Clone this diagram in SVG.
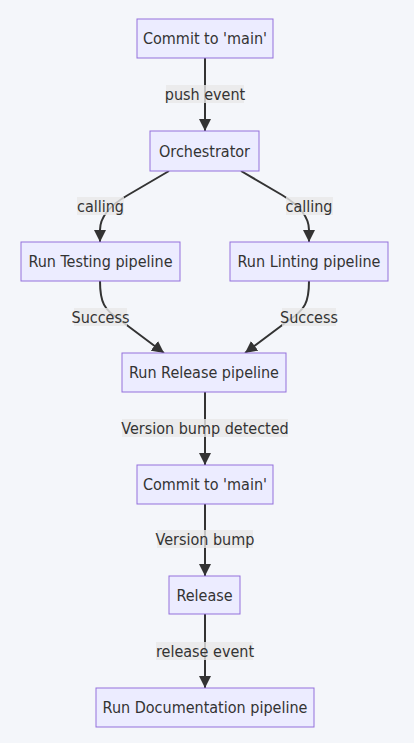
<svg xmlns="http://www.w3.org/2000/svg" width="414" height="743" viewBox="0 0 414 743">
<style>
.bg{fill:#f4f6fa}
.node rect{fill:#ececff;stroke:#9370db;stroke-width:1}
text{font-family:"DejaVu Sans Condensed","DejaVu Sans",sans-serif;font-stretch:condensed;font-size:16px;fill:#333;text-anchor:middle;dominant-baseline:central}
.edge{fill:none;stroke:#333;stroke-width:2}
.lbl rect{fill:#e8e8e8;opacity:0.8}
</style>
<defs>
<marker id="arrow" viewBox="0 0 10 10" refX="10" refY="5" markerUnits="userSpaceOnUse" markerWidth="12" markerHeight="12" orient="auto">
<path d="M0,0 L10,5 L0,10 z" fill="#333"/>
</marker>
</defs>
<rect class="bg" x="0" y="0" width="414" height="743"/>
<g id="connectors">
<path class="edge" d="M205,58 L205,131" marker-end="url(#arrow)"/>
<path class="edge" d="M169,171 L128,195 Q100,211 100,230 L100,242" marker-end="url(#arrow)"/>
<path class="edge" d="M241,171 L282,195 Q309,211 309,230 L309,242" marker-end="url(#arrow)"/>
<path class="edge" d="M100,281 C100,302 104,310 120,320 L164,353" marker-end="url(#arrow)"/>
<path class="edge" d="M309,281 C309,302 305,310 289,320 L245,353" marker-end="url(#arrow)"/>
<path class="edge" d="M205,392 L205,465" marker-end="url(#arrow)"/>
<path class="edge" d="M205,504 L205,576" marker-end="url(#arrow)"/>
<path class="edge" d="M205,614 L205,688" marker-end="url(#arrow)"/>
<g class="lbl"><rect x="166" y="85" width="78" height="18"/><text x="205" y="94.5">push event</text></g>
<g class="lbl"><rect x="77" y="197" width="47" height="18"/><text x="100.5" y="206">calling</text></g>
<g class="lbl"><rect x="286" y="197" width="47" height="18"/><text x="309" y="206">calling</text></g>
<g class="lbl"><rect x="74" y="308" width="53" height="18"/><text x="100.5" y="317">Success</text></g>
<g class="lbl"><rect x="282" y="308" width="54" height="18"/><text x="309" y="317">Success</text></g>
<g class="lbl"><rect x="122" y="419" width="166" height="18"/><text x="205" y="428.5">Version bump detected</text></g>
<g class="lbl"><rect x="157" y="530" width="96" height="18"/><text x="205" y="539.5">Version bump</text></g>
<g class="lbl"><rect x="156" y="642" width="97" height="18"/><text x="205" y="651">release event</text></g>
</g>
<g id="commit1" class="node"><rect x="137" y="19" width="136" height="39"/><text x="205" y="38.5">Commit to 'main'</text></g>
<g id="orchestrator" class="node"><rect x="150" y="131" width="109" height="40"/><text x="204.5" y="151">Orchestrator</text></g>
<g id="testing" class="node"><rect x="21" y="242" width="159" height="39"/><text x="100.5" y="261.5">Run Testing pipeline</text></g>
<g id="linting" class="node"><rect x="230" y="242" width="158" height="39"/><text x="309" y="261.5">Run Linting pipeline</text></g>
<g id="releasePipeline" class="node"><rect x="122" y="353" width="164" height="39"/><text x="204" y="372.5">Run Release pipeline</text></g>
<g id="commit2" class="node"><rect x="137" y="465" width="136" height="39"/><text x="205" y="484.5">Commit to 'main'</text></g>
<g id="release" class="node"><rect x="169" y="576" width="71" height="38"/><text x="204.5" y="595">Release</text></g>
<g id="docs" class="node"><rect x="96" y="688" width="218" height="39"/><text x="205" y="707.5">Run Documentation pipeline</text></g>
</svg>
